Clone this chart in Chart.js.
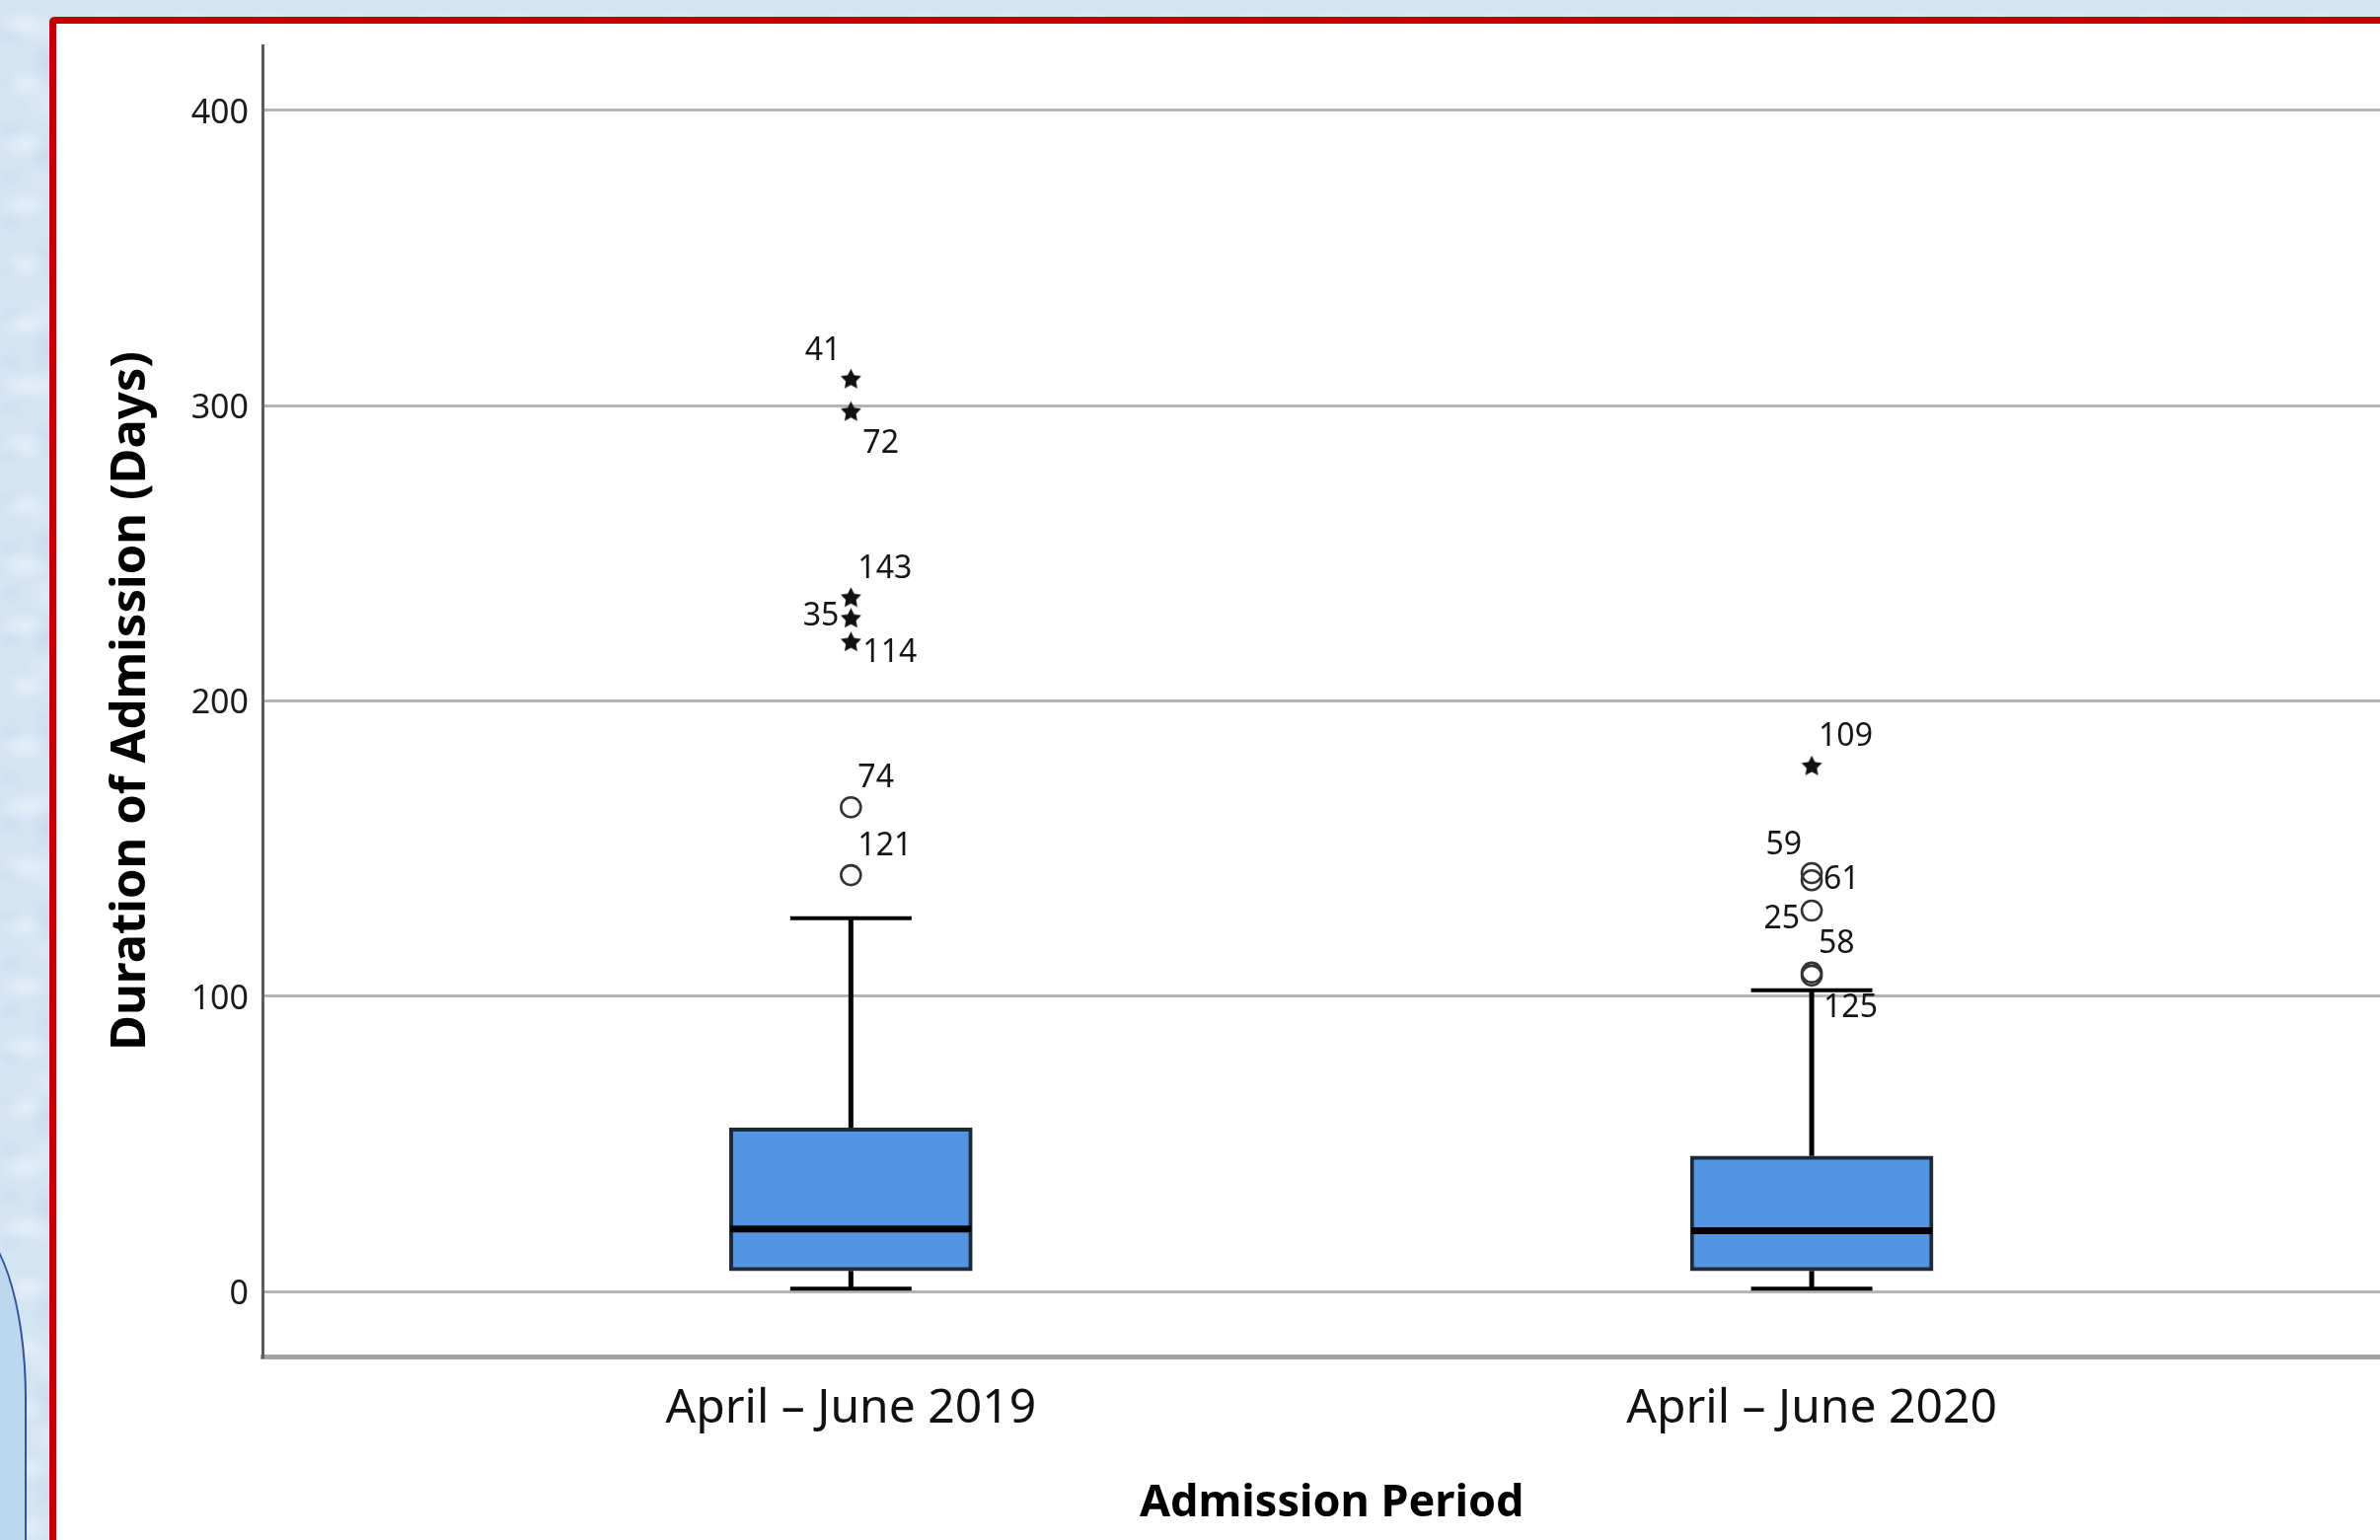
<!DOCTYPE html>
<html>
<head>
<meta charset="utf-8">
<script src="https://cdn.jsdelivr.net/npm/chart.js@4.4.1/dist/chart.umd.min.js"></script>
<style>
html, body { margin: 0; padding: 0; width: 2412px; height: 1561px; overflow: hidden; }
body {
  position: relative;
  background-color: #d4e4f3;
  background-image:
    radial-gradient(ellipse 38px 22px at 30% 40%, rgba(255,255,255,0.40), rgba(255,255,255,0) 70%),
    radial-gradient(ellipse 26px 40px at 70% 65%, rgba(182,206,231,0.40), rgba(182,206,231,0) 70%),
    radial-gradient(ellipse 50px 30px at 50% 50%, rgba(238,245,252,0.45), rgba(238,245,252,0) 70%),
    radial-gradient(ellipse 20px 16px at 20% 80%, rgba(195,216,238,0.45), rgba(195,216,238,0) 70%);
  background-size: 83px 61px, 67px 97px, 113px 71px, 53px 47px;
}
#frame {
  position: absolute; left: 50px; top: 17px; width: 2420px; height: 1600px;
  box-sizing: border-box; border: 7px solid #c00000; border-top-left-radius: 5px;
  background: #ffffff;
}
#blob {
  position: absolute; left: -200px; top: 1238px; width: 227px; height: 400px;
  box-sizing: border-box; border: 2.5px solid #2f5597;
  border-top-right-radius: 62px 180px; background: #bdd7ee;
}
#c { position: absolute; left: 0; top: 0; }
</style>
</head>
<body>
<div id="blob"></div>
<div id="frame"></div>
<canvas id="c" width="2446" height="1561"></canvas>
<script>
// ---- data ----
const categories = ['April – June 2019', 'April – June 2020'];
const yTicks = [0, 100, 200, 300, 400];
const boxQ1 = [7, 7];
const boxMedian = [21.2, 20.6];
const boxQ3 = [55.4, 45.9];
const whiskerLow = [1, 1];
const whiskerHigh = [126.4, 102];

const outlierGroup = [1, 1, 1, 1, 1, 1, 1, 2, 2, 2, 2, 2, 2];
const outlierValues = [309, 298, 235, 228, 220, 164, 141, 178, 141.7, 139.3, 129, 108, 107];
const outlierIds = ['41', '72', '143', '35', '114', '74', '121', '109', '59', '61', '25', '58', '125'];
const outlierKinds = ['extreme', 'extreme', 'extreme', 'extreme', 'extreme', 'outlier', 'outlier',
                      'extreme', 'outlier', 'outlier', 'outlier', 'outlier', 'outlier'];
const outlierLabelSide = ['tl', 'br', 'tr', 'l', 'rb', 'tr', 'tr', 'tr', 'tl', 'r', 'lb', 'tr', 'br'];

// ---- styles ----
const BOX_FILL = '#5495e3';
const BOX_EDGE = '#1f2b3b';
const CAP_WIDTH = 123;
const LABEL_PLACE = {
  tl: { align: 'right', dx: -10, dy: -28 },
  tr: { align: 'left', dx: 7, dy: -29 },
  br: { align: 'left', dx: 12, dy: 33 },
  l:  { align: 'right', dx: -12, dy: -2 },
  lb: { align: 'right', dx: -12, dy: 9 },
  r:  { align: 'left', dx: 12, dy: 0 },
  rb: { align: 'left', dx: 12, dy: 11 }
};

function makeStar(size, color) {
  const c = document.createElement('canvas');
  c.width = size; c.height = size;
  const g = c.getContext('2d');
  g.fillStyle = color;
  g.beginPath();
  const cx = size / 2, cy = size / 2 + 0.5, R = size / 2 - 0.5, r = R * 0.5;
  for (let k = 0; k < 10; k++) {
    const a = -Math.PI / 2 + k * Math.PI / 5;
    const rad = (k % 2) ? r : R;
    g.lineTo(cx + rad * Math.cos(a), cy + rad * Math.sin(a));
  }
  g.closePath();
  g.fill();
  return c;
}
const starImg = makeStar(23, '#111111');

const extremePts = [], outlierPts = [];
outlierValues.forEach((v, i) => {
  const p = { x: outlierGroup[i], y: v };
  (outlierKinds[i] === 'extreme' ? extremePts : outlierPts).push(p);
});

const boxParts = {
  id: 'boxParts',
  beforeDatasetsDraw(chart) {
    const ctx = chart.ctx, xs = chart.scales.x, ys = chart.scales.y;
    ctx.save();
    ctx.strokeStyle = '#000';
    categories.forEach((c, i) => {
      const x = xs.getPixelForValue(i + 1);
      ctx.lineWidth = 5;
      ctx.beginPath();
      ctx.moveTo(x, ys.getPixelForValue(boxQ3[i]));
      ctx.lineTo(x, ys.getPixelForValue(whiskerHigh[i]));
      ctx.moveTo(x, ys.getPixelForValue(boxQ1[i]));
      ctx.lineTo(x, ys.getPixelForValue(whiskerLow[i]));
      ctx.stroke();
      ctx.lineWidth = 4;
      ctx.beginPath();
      [whiskerHigh[i], whiskerLow[i]].forEach(v => {
        const y = ys.getPixelForValue(v);
        ctx.moveTo(x - CAP_WIDTH / 2, y);
        ctx.lineTo(x + CAP_WIDTH / 2, y);
      });
      ctx.stroke();
    });
    ctx.restore();
  },
  afterDatasetsDraw(chart) {
    const ctx = chart.ctx, xs = chart.scales.x, ys = chart.scales.y;
    const bars = chart.getDatasetMeta(0).data;
    ctx.save();
    ctx.strokeStyle = '#000';
    ctx.lineWidth = 7;
    categories.forEach((c, i) => {
      const x = xs.getPixelForValue(i + 1);
      const half = bars[i].width / 2;
      const y = ys.getPixelForValue(boxMedian[i]);
      ctx.beginPath();
      ctx.moveTo(x - half + 1, y);
      ctx.lineTo(x + half - 1, y);
      ctx.stroke();
    });
    ctx.font = '32px "Noto Sans"';
    ctx.fillStyle = '#151515';
    ctx.textBaseline = 'middle';
    outlierValues.forEach((v, i) => {
      const cx = xs.getPixelForValue(outlierGroup[i]);
      const cy = ys.getPixelForValue(v);
      const p = LABEL_PLACE[outlierLabelSide[i]];
      ctx.textAlign = p.align;
      ctx.fillText(outlierIds[i], cx + p.dx, cy + p.dy);
    });
    ctx.restore();
  }
};

Chart.defaults.font.family = '"Noto Sans", "Open Sans", sans-serif';

new Chart(document.getElementById('c'), {
  type: 'bar',
  data: {
    datasets: [
      {
        type: 'bar',
        data: categories.map((c, i) => ({ x: i + 1, y: [boxQ1[i], boxQ3[i]] })),
        backgroundColor: BOX_FILL,
        borderColor: BOX_EDGE,
        borderWidth: 4,
        borderSkipped: false,
        barThickness: 246,
        order: 3
      },
      {
        type: 'scatter',
        data: extremePts,
        pointStyle: starImg,
        pointRadius: 11,
        order: 1
      },
      {
        type: 'scatter',
        data: outlierPts,
        pointStyle: 'circle',
        pointRadius: 10,
        borderWidth: 2.6,
        borderColor: '#333333',
        backgroundColor: 'rgba(0,0,0,0)',
        order: 1
      }
    ]
  },
  options: {
    responsive: false,
    devicePixelRatio: 1,
    animation: false,
    layout: { padding: { left: 0, top: 46, right: 0, bottom: 0 } },
    plugins: { legend: { display: false }, tooltip: { enabled: false } },
    scales: {
      x: {
        type: 'linear',
        offset: false,
        min: 0.38758,
        max: 2.61345,
        grid: { display: false, drawTicks: false, offset: false },
        border: { display: true, color: '#a3a3a3', width: 5 },
        afterBuildTicks: s => { s.ticks = categories.map((c, i) => ({ value: i + 1 })); },
        afterFit: s => { s.height = 186; },
        ticks: {
          autoSkip: false, maxRotation: 0, minRotation: 0,
          padding: 25,
          color: '#111',
          font: { size: 48 },
          callback: v => categories[v - 1]
        },
        title: {
          display: true,
          text: 'Admission Period',
          color: '#000',
          font: { size: 45, weight: 'bold', lineHeight: 1 },
          padding: { top: 0, bottom: 14 }
        }
      },
      y: {
        type: 'linear',
        min: -22,
        max: 422,
        grid: { color: '#b5b5b5', lineWidth: 3, drawTicks: false },
        border: { display: true, color: '#5c5c5c', width: 3 },
        afterBuildTicks: s => { s.ticks = yTicks.map(v => ({ value: v })); },
        afterFit: s => { s.width = 266; },
        ticks: {
          padding: 14,
          labelOffset: 3,
          color: '#1a1a1a',
          font: { size: 34 },
          callback: v => String(v)
        },
        title: {
          display: true,
          text: 'Duration of Admission (Days)',
          color: '#000',
          font: { size: 49, weight: 'bold', lineHeight: 1 },
          padding: { top: 109, bottom: 0 }
        }
      }
    }
  },
  plugins: [boxParts]
});
</script>
</body>
</html>
